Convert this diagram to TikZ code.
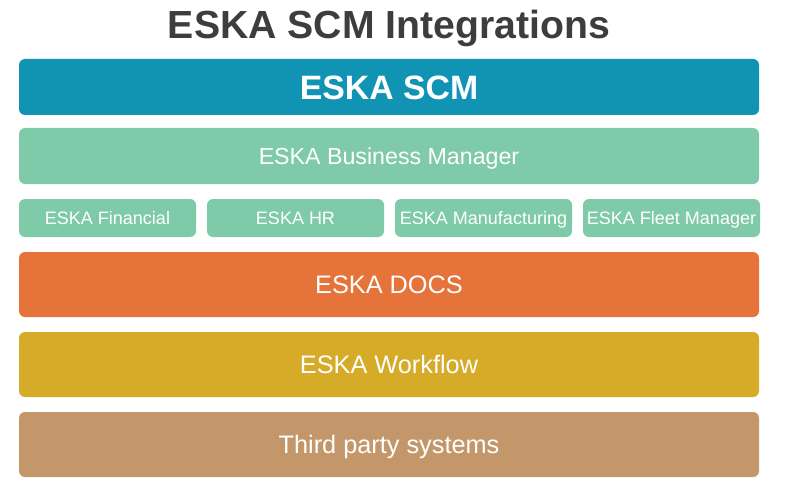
\documentclass[tikz,border=0pt]{standalone}
\usepackage{fontspec}
\setmainfont{Liberation Sans}
\usepackage{xcolor}
\usetikzlibrary{positioning}

\definecolor{titlegray}{HTML}{3D3D3D}
\definecolor{scmblue}{HTML}{1193B3}
\definecolor{bmgreen}{HTML}{7FCAA9}
\definecolor{docsorange}{HTML}{E6733A}
\definecolor{wfyellow}{HTML}{D6AB28}
\definecolor{tpbrown}{HTML}{C4976A}

\begin{document}
\begin{tikzpicture}[x=1pt,y=-1pt]

        % Define block styles
        \tikzstyle{layer} = [rectangle, rounded corners=6pt, text=white, inner sep=0pt, outer sep=0pt, minimum width=740pt, minimum height=65pt, text height=18.1pt, text depth=0pt, font=\fontsize{25.3}{29}\selectfont]
        \tikzstyle{module} = [rectangle, rounded corners=6pt, fill=bmgreen, text=white, inner sep=0pt, outer sep=0pt, minimum width=177pt, minimum height=38pt, text height=12.9pt, text depth=0pt, font=\fontsize{18}{21}\selectfont]

        \useasboundingbox (0,0) rectangle (800,492);

        % Title
        \node (title) [text=titlegray, anchor=base, font=\bfseries\fontsize{39.2}{44}\selectfont] at (389,39) {ESKA SCM Integrations};

        % Layers
        \node (scm) [layer, fill=scmblue, minimum height=56pt, text height=24.2pt, font=\bfseries\fontsize{33.8}{38}\selectfont, anchor=north west] at (19,59) {ESKA SCM};
        \node (bm) [layer, fill=bmgreen, minimum height=56pt, text height=16.6pt, font=\fontsize{23.2}{27}\selectfont, below=13pt of scm] {ESKA Business Manager};
        \node (financial) [module, below right=15pt and 0pt of bm.south west] {ESKA Financial};
        \node (hr) [module, right=11pt of financial] {ESKA HR};
        \node (manufacturing) [module, right=11pt of hr] {ESKA Manufacturing};
        \node (fleet) [module, right=11pt of manufacturing] {ESKA Fleet Manager};
        \node (docs) [layer, fill=docsorange, below right=15pt and 0pt of financial.south west] {ESKA DOCS};
        \node (workflow) [layer, fill=wfyellow, below=15pt of docs] {ESKA Workflow};
        \node (thirdparty) [layer, fill=tpbrown, below=15pt of workflow] {Third party systems};

      \end{tikzpicture}
\end{document}
